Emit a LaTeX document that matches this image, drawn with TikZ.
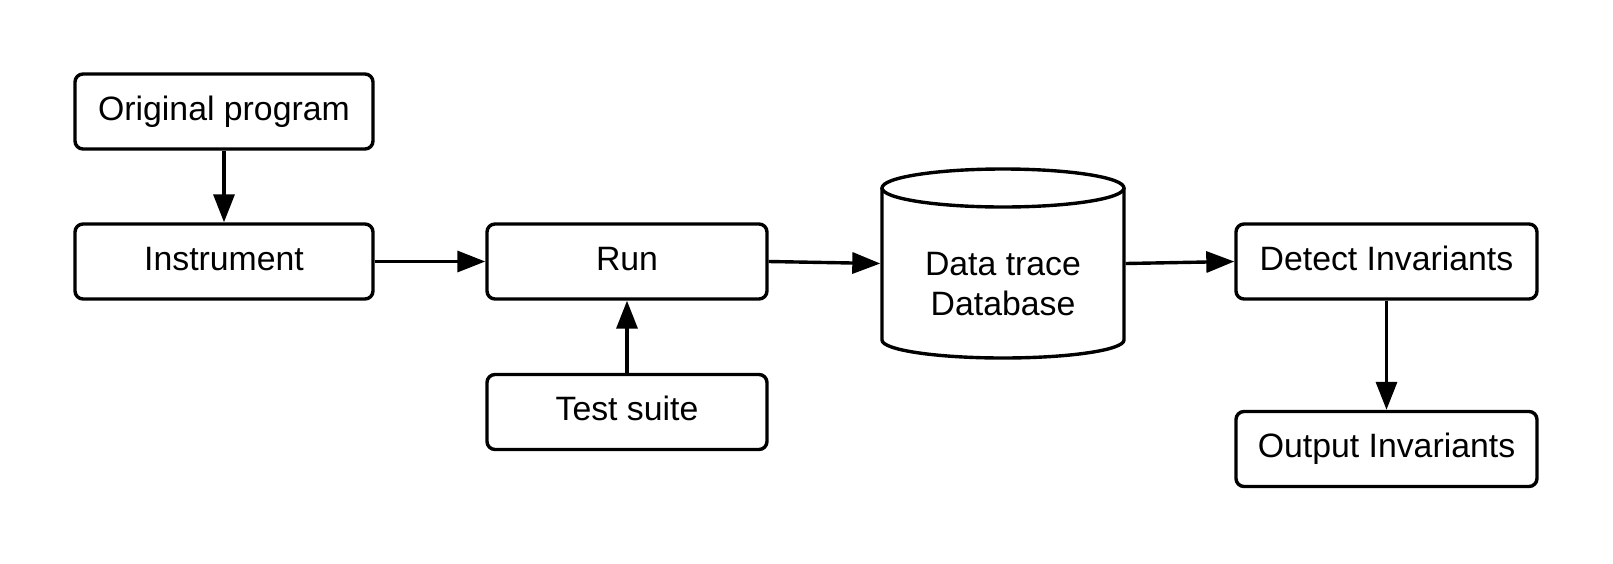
\documentclass[tikz,border=0pt]{standalone}
\usepackage{fontspec}
\setmainfont{Liberation Sans}
\usetikzlibrary{arrows.meta}
\begin{document}
\begin{tikzpicture}[x=0.5pt,y=-0.5pt,
  line width=1.7pt,
  box/.style={draw, rounded corners=4pt, inner sep=0pt, minimum height=37.5pt,
    font=\fontsize{16.9}{20}\selectfont, text height=12.1pt, text depth=3.2pt},
  arr/.style={-{Triangle[length=14pt,width=10.5pt]}}]
\useasboundingbox (0,0) rectangle (1613,563);
\node[box, minimum width=149pt] (orig) at (224,111.5) {Original program};
\node[box, minimum width=149pt] (instr) at (224,261.5) {Instrument};
\node[box, minimum width=140pt] (run) at (627,261.5) {Run};
\node[box, minimum width=140pt] (test) at (627,412) {Test suite};
\node[box, minimum width=150.5pt] (detect) at (1386.5,261.5) {Detect Invariants};
\node[box, minimum width=150.5pt] (output) at (1386.5,449) {Output Invariants};
% cylinder
\draw (1003,188) ellipse [x radius=60.5pt, y radius=9.5pt];
\draw (882,188) -- (882,340) arc[start angle=180, end angle=360, x radius=60.5pt, y radius=9pt] -- (1124,188);
\node[inner sep=0pt, minimum width=121pt, minimum height=94.5pt] (db) at (1003,263.5) {};
\node[align=center, font=\fontsize{16.9}{20}\selectfont] (dbtext) at (1003,284) {Data trace\\Database};
% connectors
\draw[arr] (orig.south) -- (instr.north);
\draw[arr] (instr.east) -- (run.west);
\draw[arr] (test.north) -- (run.south);
\draw[arr] (run.east) -- (db.west);
\draw[arr] (db.east) -- (detect.west);
\draw[arr] (detect.south) -- (output.north);
\end{tikzpicture}
\end{document}
